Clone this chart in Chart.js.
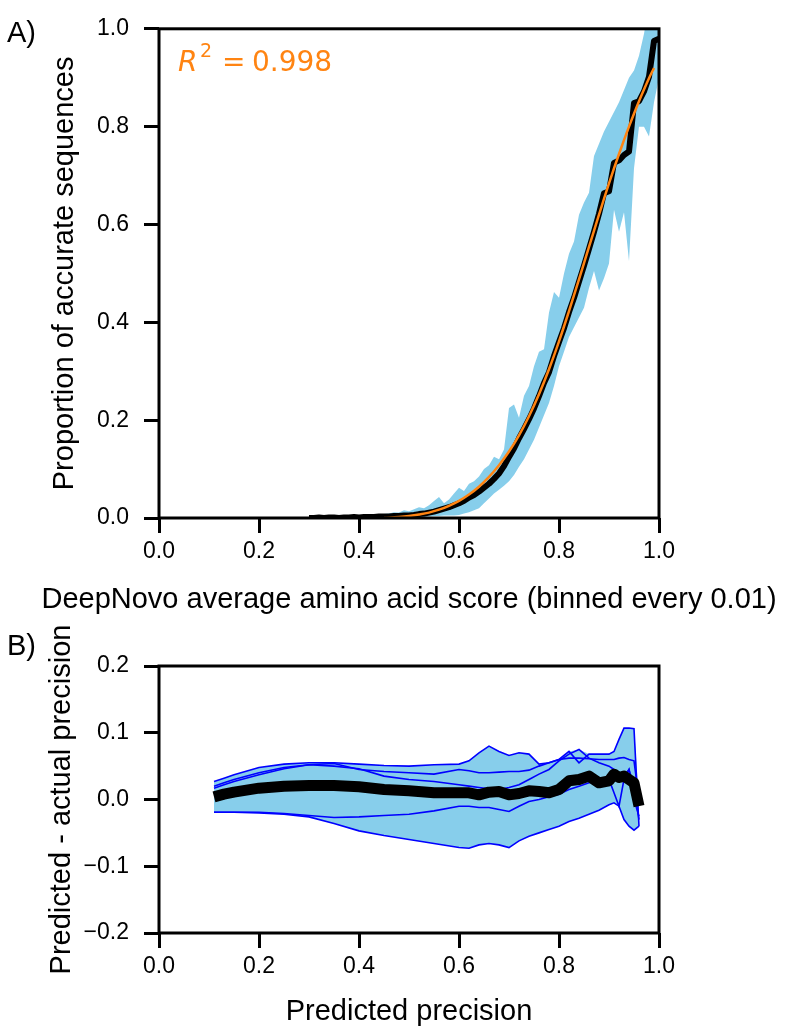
<!DOCTYPE html>
<html>
<head>
<meta charset="utf-8">
<script src="https://cdn.jsdelivr.net/npm/chart.js@4.4.0/dist/chart.umd.min.js"></script>
<style>
  html, body { margin: 0; padding: 0; background: #fff; }
  #wrap { position: relative; width: 786px; height: 1028px; }
  canvas { position: absolute; left: 0; }
  #chartA { top: 0; }
  #chartB { top: 620px; }
</style>
</head>
<body>
<div id="wrap">
  <canvas id="chartA" width="786" height="620"></canvas>
  <canvas id="chartB" width="786" height="408"></canvas>
</div>
<script>
// ---- panel A: accuracy vs DeepNovo score ----
const scoreBins = [0.30,0.31,0.32,0.33,0.34,0.35,0.36,0.37,0.38,0.39,0.40,0.41,0.42,0.43,0.44,0.45,0.46,0.47,0.48,0.49,
  0.50,0.51,0.52,0.53,0.54,0.55,0.56,0.57,0.58,0.59,0.60,0.61,0.62,0.63,0.64,0.65,0.66,0.67,0.68,0.69,
  0.70,0.71,0.72,0.73,0.74,0.75,0.76,0.77,0.78,0.79,0.80,0.81,0.82,0.83,0.84,0.85,0.86,0.87,0.88,0.89,
  0.90,0.91,0.92,0.93,0.94,0.95,0.96,0.97,0.98,0.99,1.00];
const accuracy = [0.000,0.000,0.001,0.000,0.001,0.001,0.000,0.001,0.001,0.002,0.001,0.002,0.002,0.002,0.003,0.003,0.003,0.004,0.004,0.005,
  0.005,0.006,0.008,0.009,0.011,0.013,0.016,0.019,0.022,0.026,0.030,0.035,0.042,0.047,0.054,0.062,0.070,0.080,0.091,0.106,
  0.125,0.142,0.163,0.182,0.202,0.224,0.249,0.276,0.298,0.331,0.360,0.388,0.421,0.450,0.483,0.516,0.550,0.585,0.622,0.664,
  0.668,0.726,0.731,0.742,0.749,0.848,0.852,0.872,0.902,0.975,0.980];

const bandX = [0.33,0.34,0.35,0.36,0.37,0.38,0.39,0.40,0.41,0.42,0.43,0.44,0.45,0.46,0.47,0.48,0.49,0.50,0.51,0.52,
  0.53,0.54,0.55,0.56,0.57,0.58,0.59,0.60,0.61,0.62,0.63,0.64,0.65,0.66,0.67,0.68,0.69,0.70,0.71,0.72,
  0.73,0.74,0.75,0.76,0.77,0.78,0.79,0.80,0.81,0.82,0.83,0.84,0.85,0.86,0.87,0.88,0.89,0.90,0.91,0.92,
  0.93,0.94,0.95,0.96,0.97,0.98,0.99,1.00];
const bandHigh = [0.003,0.002,0.004,0.003,0.004,0.003,0.005,0.004,0.005,0.006,0.006,0.007,0.008,0.009,0.012,0.011,0.016,0.014,0.018,0.022,
  0.020,0.026,0.035,0.043,0.030,0.038,0.050,0.062,0.055,0.070,0.075,0.085,0.100,0.108,0.125,0.120,0.140,0.225,0.232,0.205,
  0.250,0.270,0.310,0.340,0.345,0.420,0.462,0.450,0.500,0.540,0.565,0.620,0.645,0.665,0.740,0.765,0.790,0.810,0.830,0.850,
  0.875,0.900,0.915,0.945,0.990,1.050,1.050,1.050];
const bandLow = [0.000,0.000,0.000,0.000,0.000,0.000,0.000,0.000,0.000,0.000,0.000,0.000,0.000,0.001,0.001,0.001,0.001,0.001,0.001,0.002,
  0.002,0.003,0.004,0.004,0.005,0.005,0.005,0.006,0.009,0.012,0.016,0.020,0.030,0.040,0.050,0.058,0.066,0.075,0.088,0.105,
  0.120,0.140,0.160,0.185,0.210,0.235,0.270,0.310,0.340,0.370,0.390,0.410,0.430,0.470,0.505,0.465,0.490,0.520,0.630,0.585,
  0.625,0.525,0.715,0.800,0.800,0.780,0.850,0.900];

const fitX = [0.45,0.48,0.50,0.52,0.54,0.56,0.58,0.60,0.62,0.64,0.66,0.68,0.70,0.72,0.74,0.76,0.78,0.80,0.82,0.84,0.86,0.88,0.90,0.92,0.94,0.96,0.98,0.99];
const fitY = [0.000,0.002,0.004,0.007,0.011,0.017,0.025,0.035,0.048,0.064,0.084,0.108,0.136,0.169,0.208,0.253,0.304,0.361,0.423,0.488,0.554,0.620,0.684,0.744,0.800,0.852,0.899,0.920];

// ---- panel B: predicted - actual precision ----
const precX = [0.11,0.13,0.15,0.20,0.25,0.30,0.35,0.40,0.45,0.50,0.55,0.60,0.62,0.64,0.66,0.68,0.70,0.72,0.74,0.76,0.78,0.80,0.82,0.84,0.86,0.88,0.90,0.91,0.92,0.93,0.94,0.95,0.96];
const fold1 = [0.027,0.032,0.037,0.048,0.053,0.055,0.055,0.053,0.051,0.050,0.052,0.053,0.058,0.070,0.080,0.072,0.066,0.070,0.068,0.053,0.055,0.060,0.072,0.055,0.068,0.068,0.068,0.072,0.090,0.107,0.107,0.106,-0.040];
const fold2 = [0.017,0.022,0.027,0.037,0.046,0.052,0.054,0.045,0.042,0.040,0.038,0.045,0.043,0.040,0.040,0.041,0.042,0.042,0.044,0.050,0.055,0.060,0.062,0.062,0.061,0.060,0.060,0.060,0.062,0.063,0.060,0.058,0.000];
const fold3 = [0.020,0.025,0.030,0.040,0.048,0.052,0.050,0.046,0.035,0.030,0.027,0.022,0.020,0.018,0.016,0.015,0.018,0.022,0.030,0.038,0.045,0.058,0.068,0.075,0.062,0.055,0.050,0.045,0.040,0.035,0.045,0.020,-0.030];
const fold4 = [-0.019,-0.019,-0.019,-0.019,-0.021,-0.024,-0.027,-0.026,-0.024,-0.022,-0.017,-0.010,-0.010,-0.012,-0.012,-0.015,-0.018,-0.010,-0.003,0.000,0.004,0.008,0.015,0.020,0.025,0.028,0.030,0.010,-0.010,0.030,0.045,0.000,-0.025];
const fold5 = [-0.019,-0.019,-0.019,-0.020,-0.022,-0.026,-0.036,-0.047,-0.054,-0.060,-0.066,-0.072,-0.073,-0.068,-0.066,-0.068,-0.072,-0.062,-0.055,-0.050,-0.045,-0.040,-0.033,-0.028,-0.022,-0.016,-0.008,-0.005,-0.010,-0.030,-0.040,-0.046,-0.040];
const meanDiff = [0.004,0.008,0.011,0.017,0.020,0.021,0.021,0.019,0.015,0.013,0.010,0.010,0.010,0.007,0.011,0.012,0.007,0.009,0.013,0.012,0.010,0.015,0.028,0.030,0.035,0.025,0.028,0.038,0.033,0.035,0.030,0.025,-0.010];

const xTicks01 = [0, 0.2, 0.4, 0.6, 0.8, 1.0];
const yTicksA = [0, 0.2, 0.4, 0.6, 0.8, 1.0];
const yTicksB = [-0.2, -0.1, 0, 0.1, 0.2];

const FONT = '"Liberation Sans", Arial, Helvetica, sans-serif';
const SKY = '#87ceeb';
const ORANGE = '#ff8412';
const TICK_FONT = { family: FONT, size: 23 };

Chart.defaults.font.family = FONT;
Chart.defaults.font.size = 23;
Chart.defaults.color = '#000';

function pts(xs, ys) {
  return xs.map((x, i) => ({ x: x, y: ys[i] }));
}

function fmt(v) {
  if (Math.abs(v) < 1e-9) return '0.0';
  return v.toFixed(1).replace('-', '\u2212');
}

function drawText(ctx, str, x, y, o) {
  ctx.save();
  ctx.font = o.font;
  ctx.fillStyle = o.color || '#000';
  ctx.textAlign = o.align || 'left';
  ctx.textBaseline = o.baseline || 'alphabetic';
  ctx.translate(x, y);
  if (o.rotate) ctx.rotate(o.rotate);
  ctx.fillText(str, 0, 0);
  ctx.restore();
}

function frameAndText(texts) {
  return {
    id: 'frameAndText',
    afterDraw(chart) {
      const ctx = chart.ctx;
      const a = chart.chartArea;
      ctx.save();
      ctx.strokeStyle = '#000';
      ctx.lineWidth = 3;
      ctx.strokeRect(a.left, a.top, a.right - a.left, a.bottom - a.top);
      ctx.restore();
      texts(ctx, a);
    }
  };
}

function scaleX(ticks, height) {
  return {
    type: 'linear', min: 0, max: 1,
    afterBuildTicks: s => { s.ticks = ticks.map(v => ({ value: v })); },
    afterFit: s => { s.height = height; },
    ticks: { callback: fmt, font: TICK_FONT, padding: 5, maxRotation: 0, autoSkip: false },
    grid: { drawOnChartArea: false, drawTicks: true, tickLength: 15, lineWidth: 3, color: '#000' },
    border: { display: false }
  };
}

function scaleY(min, max, ticks) {
  return {
    type: 'linear', min: min, max: max,
    afterBuildTicks: s => { s.ticks = ticks.map(v => ({ value: v })); },
    afterFit: s => { s.width = 159; },
    ticks: { callback: fmt, font: TICK_FONT, padding: 15, autoSkip: false },
    grid: { drawOnChartArea: false, drawTicks: true, tickLength: 15, lineWidth: 3, color: '#000' },
    border: { display: false }
  };
}

const common = {
  responsive: false,
  animation: false,
  events: [],
  plugins: { legend: { display: false }, tooltip: { enabled: false } },
  elements: { point: { radius: 0 } }
};

// ---------- chart A ----------
new Chart(document.getElementById('chartA'), {
  type: 'line',
  data: {
    datasets: [
      { data: pts(fitX, fitY), borderColor: ORANGE, borderWidth: 2.5, tension: 0.4, fill: false },
      { data: pts(scoreBins, accuracy), borderColor: '#000', borderWidth: 6, borderJoinStyle: 'round', fill: false },
      { data: pts(bandX, bandHigh), borderWidth: 0, borderColor: SKY, backgroundColor: SKY, fill: '+1' },
      { data: pts(bandX, bandLow), borderWidth: 0, borderColor: SKY, fill: false }
    ]
  },
  options: Object.assign({}, common, {
    layout: { padding: { top: 21, right: 127, bottom: 0, left: 0 } },
    scales: { x: scaleX(xTicks01, 102), y: scaleY(0, 1, yTicksA) }
  }),
  plugins: [frameAndText((ctx, a) => {
    drawText(ctx, 'A)', 7, 42, { font: '29px ' + FONT });
    drawText(ctx, 'Proportion of accurate sequences', 65, (a.top + a.bottom) / 2,
      { font: '29px ' + FONT, align: 'center', baseline: 'middle', rotate: -Math.PI / 2 });
    drawText(ctx, 'DeepNovo average amino acid score (binned every 0.01)', (a.left + a.right) / 2, 600,
      { font: '29px ' + FONT, align: 'center', baseline: 'middle' });
    // R^2 annotation
    const mfont = '"DejaVu Sans", sans-serif';
    drawText(ctx, 'R', a.left + 19, a.top + 42, { font: 'italic 28px ' + mfont, color: ORANGE });
    drawText(ctx, '2', a.left + 41, a.top + 28, { font: '19px ' + mfont, color: ORANGE });
    drawText(ctx, '=', a.left + 63, a.top + 42, { font: '28px ' + mfont, color: ORANGE });
    drawText(ctx, '0.998', a.left + 93, a.top + 42, { font: '28px ' + mfont, color: ORANGE });
  })]
});

// ---------- chart B ----------
const folds = [fold1, fold2, fold3, fold4, fold5];
const envHigh = precX.map((x, i) => Math.max(...folds.map(f => f[i])));
const envLow = precX.map((x, i) => Math.min(...folds.map(f => f[i])));

const foldSets = folds.map(f => ({ data: pts(precX, f), borderColor: '#0000ff', borderWidth: 1.6, fill: false }));

new Chart(document.getElementById('chartB'), {
  type: 'line',
  data: {
    datasets: [
      { data: pts(precX, meanDiff), borderColor: '#000', borderWidth: 11, borderJoinStyle: 'round', fill: false },
      ...foldSets,
      { data: pts(precX, envHigh), borderWidth: 0, borderColor: SKY, backgroundColor: SKY, fill: '+1' },
      { data: pts(precX, envLow), borderWidth: 0, borderColor: SKY, fill: false }
    ]
  },
  options: Object.assign({}, common, {
    layout: { padding: { top: 46, right: 127, bottom: 0, left: 0 } },
    scales: { x: scaleX(xTicks01, 95), y: scaleY(-0.2, 0.2, yTicksB) }
  }),
  plugins: [frameAndText((ctx, a) => {
    drawText(ctx, 'B)', 7, 35, { font: '29px ' + FONT });
    drawText(ctx, 'Predicted - actual precision', 62, (a.top + a.bottom) / 2,
      { font: '29px ' + FONT, align: 'center', baseline: 'middle', rotate: -Math.PI / 2 });
    drawText(ctx, 'Predicted precision', (a.left + a.right) / 2, 392,
      { font: '29px ' + FONT, align: 'center', baseline: 'middle' });
  })]
});
</script>
</body>
</html>
